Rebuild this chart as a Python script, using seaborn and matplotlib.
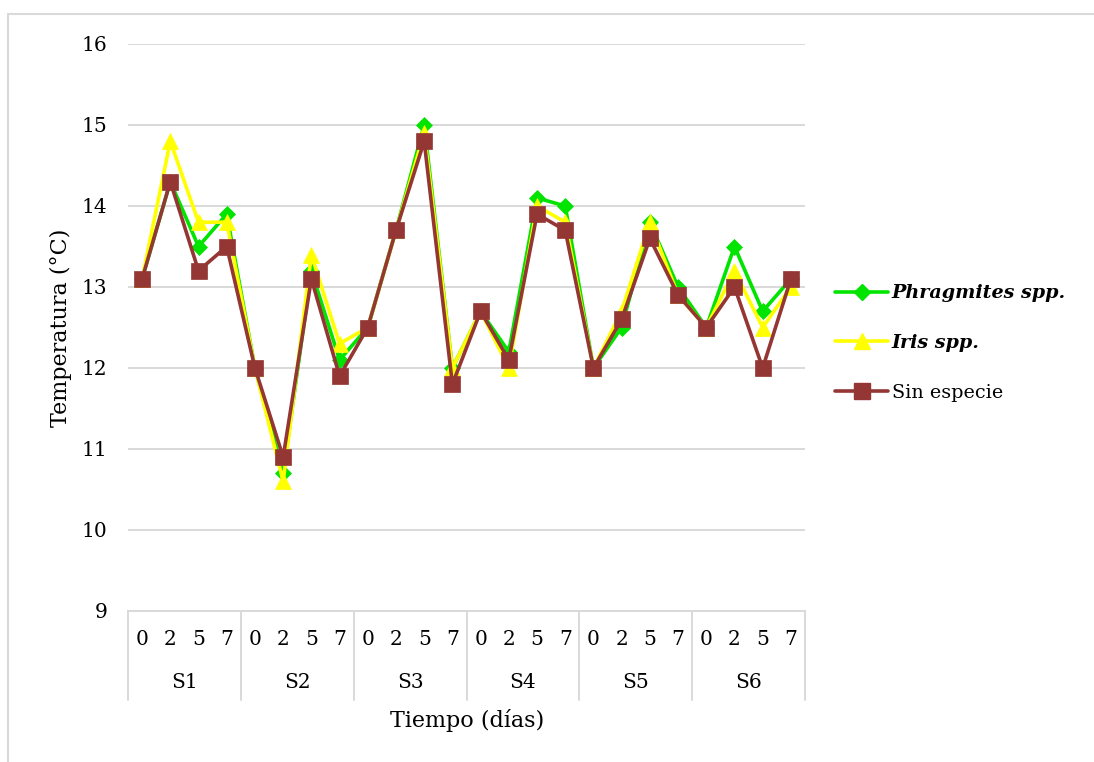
import matplotlib
matplotlib.use("Agg")
import matplotlib.pyplot as plt
import seaborn as sns
import pandas as pd
from matplotlib.lines import Line2D

groups = ["S1", "S2", "S3", "S4", "S5", "S6"]
days = ["0", "2", "5", "7"]
series_names = ["Phragmites spp.", "Iris spp.", "Sin especie"]

phragmites = [13.1, 14.3, 13.5, 13.9,
              12.0, 10.7, 13.2, 12.1,
              12.5, 13.7, 15.0, 12.0,
              12.7, 12.2, 14.1, 14.0,
              12.0, 12.5, 13.8, 13.0,
              12.5, 13.5, 12.7, 13.1]
iris = [13.1, 14.8, 13.8, 13.8,
        12.0, 10.6, 13.4, 12.3,
        12.5, 13.7, 14.9, 12.0,
        12.7, 12.0, 14.0, 13.8,
        12.0, 12.7, 13.8, 12.9,
        12.5, 13.2, 12.5, 13.0]
sin_especie = [13.1, 14.3, 13.2, 13.5,
               12.0, 10.9, 13.1, 11.9,
               12.5, 13.7, 14.8, 11.8,
               12.7, 12.1, 13.9, 13.7,
               12.0, 12.6, 13.6, 12.9,
               12.5, 13.0, 12.0, 13.1]

colors = {"Phragmites spp.": "#00e400", "Iris spp.": "#ffff00", "Sin especie": "#943634"}
markers = {"Phragmites spp.": "D", "Iris spp.": "^", "Sin especie": "s"}
msizes = {"Phragmites spp.": 8.5, "Iris spp.": 11, "Sin especie": 11}

values = {"Phragmites spp.": phragmites, "Iris spp.": iris, "Sin especie": sin_especie}
rows = []
for s in series_names:
    for i, v in enumerate(values[s]):
        rows.append({"pos": i, "temp": v, "serie": s})
df = pd.DataFrame(rows)

sns.set_theme(style="white")
plt.rcParams["font.family"] = ["DejaVu Serif"]
plt.rcParams["text.color"] = "black"
plt.rcParams["xtick.color"] = "black"
plt.rcParams["ytick.color"] = "black"
plt.rcParams["axes.labelcolor"] = "black"

fig = plt.figure(figsize=(10.94, 7.62), dpi=100)
ax = fig.add_axes([128 / 1094, 1 - 611 / 762, (805 - 128) / 1094, (611 - 44) / 762])

for s in series_names:
    sub = df[df["serie"] == s]
    sns.lineplot(data=sub, x="pos", y="temp", ax=ax, color=colors[s], linewidth=2.6,
                 marker=markers[s], markersize=msizes[s], markeredgecolor=colors[s],
                 markeredgewidth=0.5, label=s, legend=False)

TS = 14.5
ax.set_ylim(9, 16)
ax.set_yticks(range(9, 17))
ax.set_xlim(-0.5, len(phragmites) - 0.5)
ax.grid(axis="y", color="#d9d9d9", linewidth=1.4)
ax.set_axisbelow(True)
for sp in ["top", "right", "left"]:
    ax.spines[sp].set_visible(False)
ax.spines["bottom"].set_color("#d9d9d9")
ax.spines["bottom"].set_linewidth(1.4)

ax.tick_params(axis="y", length=0, pad=15, labelsize=TS)
xt = list(range(len(groups) * len(days)))
ax.set_xticks(xt)
ax.set_xticklabels(days * len(groups))
ax.tick_params(axis="x", length=0, pad=14, labelsize=TS)
ax.set_xlabel("")
ax.set_ylabel("Temperatura (°C)", fontsize=16, labelpad=7)

tr = ax.get_xaxis_transform()
ndays = len(days)
depth = -(700 - 611) / (611 - 44)
for g in range(len(groups) + 1):
    xb = g * ndays - 0.5
    ax.plot([xb, xb], [0, depth], transform=tr, clip_on=False, color="#d9d9d9", linewidth=1.4)
for g, name in enumerate(groups):
    xc = g * ndays + (ndays - 1) / 2
    ax.text(xc, -(683 - 611) / (611 - 44), name, transform=tr, ha="center", va="center", fontsize=TS)

fig.text(467 / 1094, 1 - 721 / 762, "Tiempo (días)", ha="center", va="center", fontsize=16)

handles = [Line2D([], [], color=colors[s], linewidth=2.6, marker=markers[s], markersize=msizes[s],
                  markeredgecolor=colors[s]) for s in series_names]
leg = fig.legend(handles, series_names, loc="center left", bbox_to_anchor=(818 / 1094, 1 - 343 / 762),
                 frameon=False, fontsize=13.8, handlelength=2.75, handletextpad=0.2, labelspacing=1.65)
for t in leg.get_texts()[:2]:
    t.set_fontstyle("italic")
    t.set_fontweight("bold")

fig.add_artist(Line2D([8 / 1094, 8 / 1094], [0, 1 - 14 / 762], transform=fig.transFigure, color="#d9d9d9", linewidth=1.5))
fig.add_artist(Line2D([8 / 1094, 1], [1 - 14 / 762, 1 - 14 / 762], transform=fig.transFigure, color="#d9d9d9", linewidth=1.5))

fig.savefig("out.png", dpi=100, facecolor="white")
